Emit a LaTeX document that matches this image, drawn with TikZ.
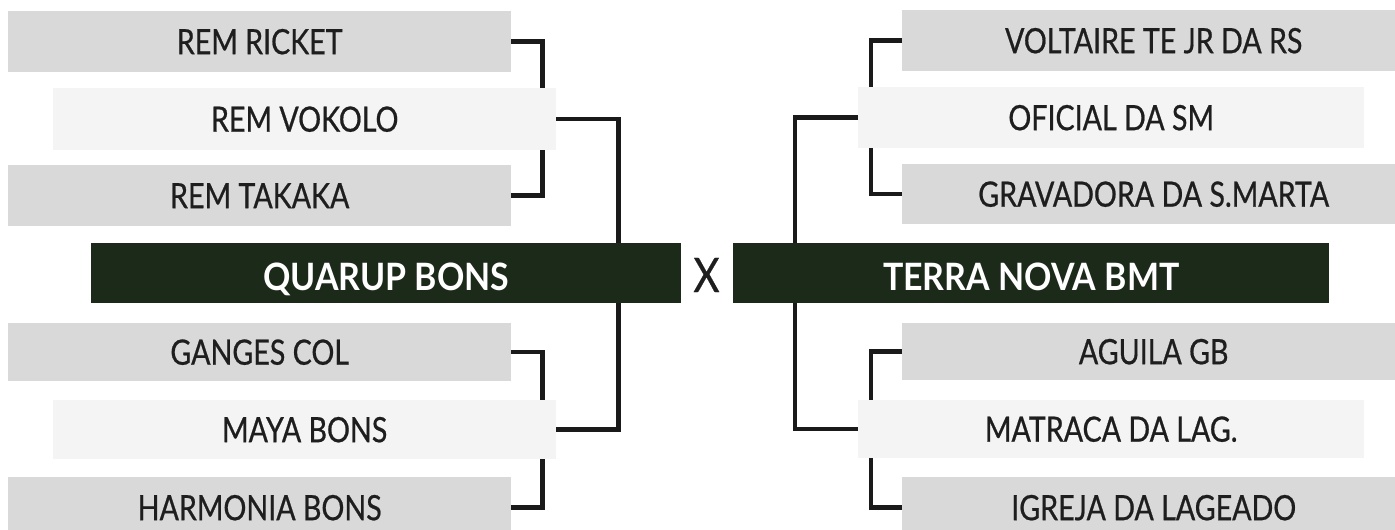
\documentclass[tikz,border=0pt]{standalone}
\usepackage{fontspec}
\setmainfont{Lato}
\newfontfamily\teamfont{Lato}[FakeStretch=0.82,FakeBold=0.6]
\newfontfamily\titlefont{Lato}[FakeStretch=0.9]
\newfontfamily\versusfont{Lato}[FakeStretch=0.85,FakeBold=0.5]
\usetikzlibrary{backgrounds}
\definecolor{boxgray}{HTML}{D9D9D9}
\definecolor{boxlight}{HTML}{F4F4F4}
\definecolor{boxdark}{HTML}{1C2A1A}
\definecolor{ink}{HTML}{1E1E1E}
\definecolor{wirecol}{HTML}{1A1A1A}
\tikzset{
  team/.style={anchor=north west, inner sep=0pt, minimum width=503pt, text=ink,
    font=\teamfont\fontsize{34.9}{40}\selectfont, text height=25pt, text depth=0pt},
  gbox/.style={team, fill=boxgray},
  lbox/.style={team, fill=boxlight},
  final/.style={anchor=north west, inner sep=0pt, fill=boxdark, text=white,
    font=\titlefont\bfseries\fontsize{37.7}{44}\selectfont, text height=27pt, text depth=0pt,
    minimum height=60pt},
  wire/.style={draw=wirecol, line width=4.5pt, line join=miter},
}
\begin{document}
\begin{tikzpicture}[x=1pt,y=-1pt]
\useasboundingbox (0,0) rectangle (1395,530);
\clip (0,0) rectangle (1395,530);
% left side
\node[gbox, minimum height=61pt] (A1) at (8,11) {REM RICKET};
\node[lbox, minimum height=62pt] (A2) at (53,88) {REM VOKOLO};
\node[gbox, minimum height=61pt] (A3) at (8,165) {REM TAKAKA};
\node[final, minimum width=590pt] (Q) at (91,243) {\raisebox{-3.5pt}{QUARUP BONS}};
\node[gbox, minimum height=58pt] (B1) at (8,323) {GANGES COL};
\node[lbox, minimum height=59pt] (B2) at (53,400) {MAYA BONS};
\node[gbox, minimum height=61pt] (B3) at (8,477) {HARMONIA BONS};
% right side
\node[gbox, minimum height=61pt] (C1) at (902,10) {VOLTAIRE TE JR DA RS};
\node[lbox, minimum height=61pt, minimum width=506pt] (C2) at (858,87) {OFICIAL DA SM};
\node[gbox, minimum height=60pt] (C3) at (902,164) {GRAVADORA DA S.MARTA};
\node[final, minimum width=596pt] (T) at (733,243) {\raisebox{-3.5pt}{TERRA NOVA BMT}};
\node[gbox, minimum height=57pt] (D1) at (902,323) {AGUILA GB};
\node[lbox, minimum height=58pt, minimum width=506pt] (D2) at (858,400) {MATRACA DA LAG.};
\node[gbox, minimum height=61pt] (D3) at (902,477) {IGREJA DA LAGEADO};
% versus
\node[text=ink, inner sep=0pt, font=\versusfont\fontsize{47.5}{52}\selectfont, text height=34pt, text depth=0pt] (X) at (706.5,275) {X};
% connectors
\begin{pgfonlayer}{background}
\fill[white] (0,0) rectangle (1395,530);
\draw[wire] (A1.east) -- ++(31,0) coordinate (la) |- (A3.east);
\draw[wire] (A2.east) -- ++(62,0) coordinate (lq) |- (B2.east);
\draw[wire] (B1.east) -- ++(31,0) coordinate (lb) |- (B3.east);
\draw[wire] (C1.west) -- ++(-31,0) coordinate (rc) |- (C3.west);
\draw[wire] (C2.west) -- ++(-63,0) coordinate (rt) |- (D2.west);
\draw[wire] (D1.west) -- ++(-31,0) coordinate (rd) |- (D3.west);
\end{pgfonlayer}
\end{tikzpicture}
\end{document}
